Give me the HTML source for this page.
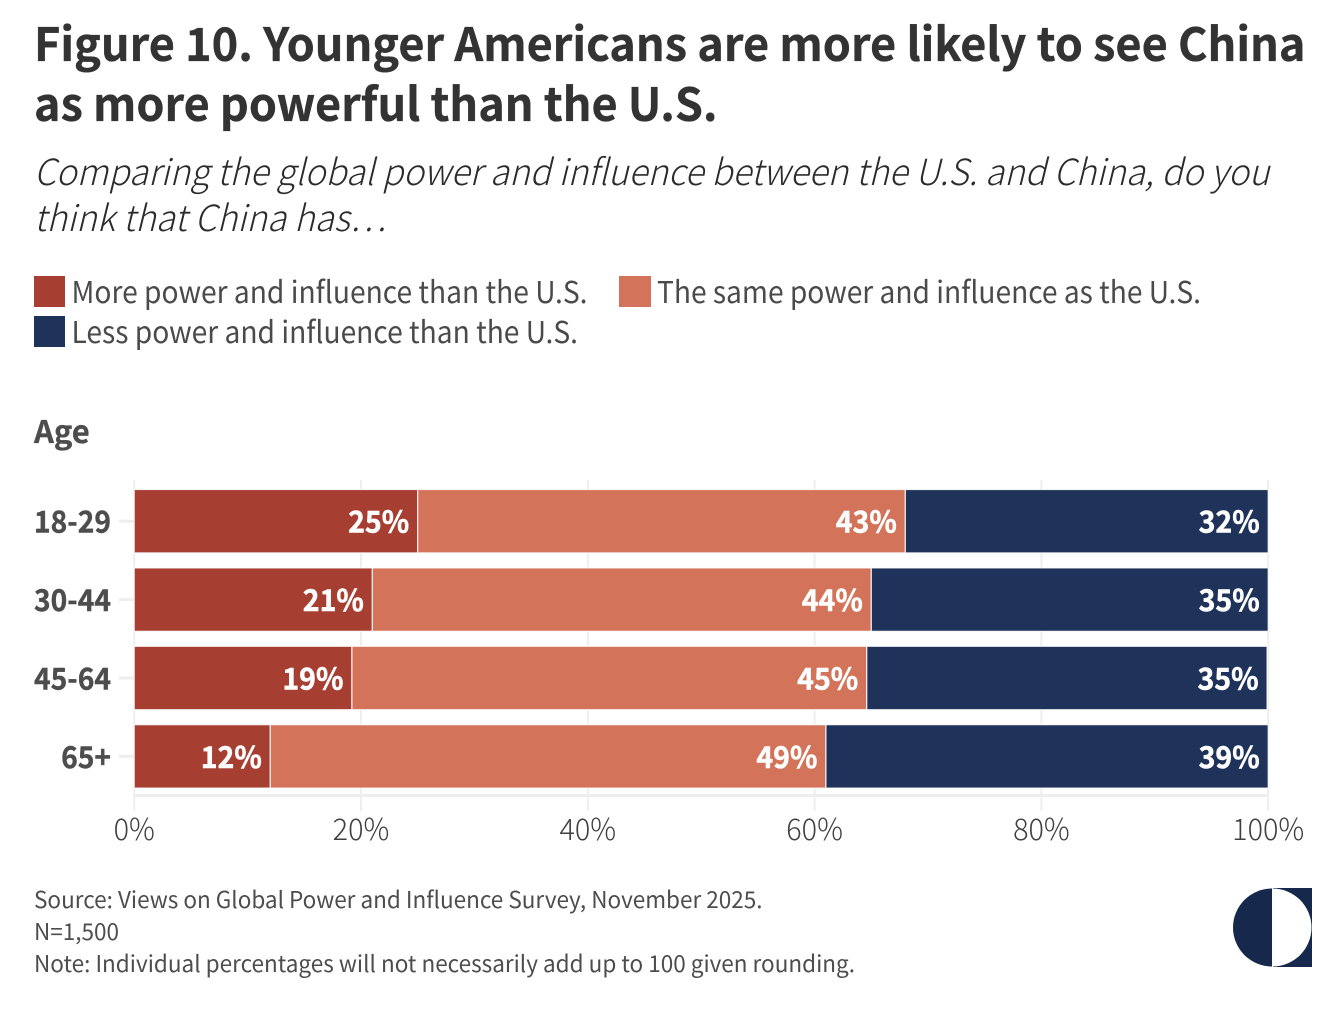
<!DOCTYPE html>
<html lang="en">
<head>
<meta charset="utf-8">
<title>Figure 10</title>
<style>
html,body{margin:0;padding:0;background:#fff;width:1341px;height:1010px;overflow:hidden}
svg{display:block}
text{font-family:"Noto Sans CJK JP","Liberation Sans",sans-serif;font-kerning:normal}
</style>
</head>
<body>
<svg id="chart" xmlns="http://www.w3.org/2000/svg" width="1341" height="1010" viewBox="0 0 1341 1010">
  <rect width="1341" height="1010" fill="#ffffff"/>
  <text x="34" y="61" font-size="46" font-weight="700" fill="#333333" stroke="#333333" stroke-width="0.35" textLength="1271.5" lengthAdjust="spacingAndGlyphs">Figure 10. Younger Americans are more likely to see China</text>
  <text x="34" y="121" font-size="46" font-weight="700" fill="#333333" stroke="#333333" stroke-width="0.35" textLength="683.5" lengthAdjust="spacingAndGlyphs">as more powerful than the U.S.</text>
  <text x="34" y="185" font-size="36" font-style="italic" font-weight="300" fill="#2b2b2b" textLength="1235.5" lengthAdjust="spacingAndGlyphs">Comparing the global power and influence between the U.S. and China, do you</text>
  <text x="34" y="231" font-size="36" font-style="italic" font-weight="300" fill="#2b2b2b" textLength="352" lengthAdjust="spacingAndGlyphs">think that China has…</text>

  <g>
    <rect x="34" y="276" width="31" height="31" fill="#a73e32"/>
    <text x="71.5" y="303" font-size="30" font-weight="400" fill="#4a4a4a" textLength="516" lengthAdjust="spacingAndGlyphs">More power and influence than the U.S.</text>
    <rect x="619" y="276" width="32" height="31" fill="#d2735a"/>
    <text x="657" y="303" font-size="30" font-weight="400" fill="#4a4a4a" textLength="544" lengthAdjust="spacingAndGlyphs">The same power and influence as the U.S.</text>
    <rect x="34" y="316" width="31" height="31" fill="#1f325a"/>
    <text x="71.5" y="343" font-size="30" font-weight="400" fill="#4a4a4a" textLength="506.5" lengthAdjust="spacingAndGlyphs">Less power and influence than the U.S.</text>
  </g>

  <text x="34" y="443" font-size="31" font-weight="700" fill="#4d4d4d" stroke="#4d4d4d" stroke-width="0.3">Age</text>

  <g id="grid"></g>
  <g id="bars"></g>
  <g id="yaxis"></g>
  <g id="xaxis"></g>

  <g>
    <text x="34" y="908" font-size="23" font-weight="400" fill="#4d4d4d" textLength="728.5" lengthAdjust="spacingAndGlyphs">Source: Views on Global Power and Influence Survey, November 2025.</text>
    <text x="34" y="940" font-size="23" font-weight="400" fill="#4d4d4d" textLength="85" lengthAdjust="spacingAndGlyphs">N=1,500</text>
    <text x="34" y="972" font-size="23" font-weight="400" fill="#4d4d4d" textLength="821" lengthAdjust="spacingAndGlyphs">Note: Individual percentages will not necessarily add up to 100 given rounding.</text>
  </g>

  <g>
    <rect x="1273" y="888" width="39" height="79" fill="#16284c"/>
    <circle cx="1272.5" cy="927.5" r="39" fill="#ffffff"/>
    <path d="M1272 888.5A39 39 0 0 0 1272 966.5Z" fill="#16284c"/>
  </g>
</svg>
<script>
const categories = ["18-29", "30-44", "45-64", "65+"];
const morePower = [25, 21, 19.2, 12];
const samePower = [43, 44, 45.4, 49];
const lessPower = [32, 35, 35.3, 39];
const xTicks = [0, 20, 40, 60, 80, 100];

const NS = "http://www.w3.org/2000/svg";
const xScale = v => 134.2 + v * 11.34;
const bandTop = i => 489.5 + i * 78.4;
const BAND_H = 63.4;

function make(tag, parent, attrs, text) {
  const el = document.createElementNS(NS, tag);
  for (const k in attrs) el.setAttribute(k, attrs[k]);
  if (text !== undefined) el.textContent = text;
  parent.appendChild(el);
  return el;
}

function narrow(el, factor) {
  el.setAttribute("textLength", el.getComputedTextLength() * factor);
  el.setAttribute("lengthAdjust", "spacingAndGlyphs");
}

const grid = document.getElementById("grid");
const bars = document.getElementById("bars");
const yaxis = document.getElementById("yaxis");
const xaxis = document.getElementById("xaxis");

xTicks.forEach(t => {
  const line = make("line", grid, {x1: xScale(t), x2: xScale(t), y1: 480, y2: 811, stroke: "#eeeeee", "stroke-width": 2});
  
  
  const label = make("text", xaxis, {x: xScale(t), y: 840, "text-anchor": "middle", "font-size": 30, "font-weight": 300, fill: "#404040"}, t + "%");
  
  
  narrow(label, 0.96);
});

const baseline = make("line", grid, {x1: 134, x2: 1268, y1: 795.5, y2: 795.5, stroke: "#eeeeee", "stroke-width": 3});



const seriesList = [
  {values: morePower, fill: "#a73e32"},
  {values: samePower, fill: "#d2735a"},
  {values: lessPower, fill: "#1f325a"}
];

categories.forEach((cat, i) => {
  const y = bandTop(i);
  const tick = make("line", yaxis, {x1: 119, x2: 134, y1: y + BAND_H / 2, y2: y + BAND_H / 2, stroke: "#eeeeee", "stroke-width": 3});
  
  
  const label = make("text", yaxis, {x: 111, y: y + BAND_H / 2 + 11.5, "text-anchor": "end", "font-size": 30, "font-weight": 700, fill: "#4d4d4d", stroke: "#4d4d4d", "stroke-width": 0.4}, cat);
  
  
  narrow(label, 0.94);

  let cumulative = 0;
  seriesList.forEach(s => {
    const v = s.values[i];
    const x0 = xScale(cumulative);
    const x1 = xScale(cumulative + v);
    const rect = make("rect", bars, {x: x0, y: y, width: x1 - x0, height: BAND_H, fill: s.fill, stroke: "#ffffff", "stroke-opacity": 0.85, "stroke-width": 1.2});
    
    
    const value = make("text", bars, {x: x1 - 8.5, y: y + BAND_H / 2 + 11.5, "text-anchor": "end", "font-size": 30, "font-weight": 700, fill: "#ffffff", stroke: "#ffffff", "stroke-width": 0.5}, Math.round(v) + "%");
    
    
    narrow(value, 0.95);
    cumulative += v;
  });
});
</script>
</body>
</html>
